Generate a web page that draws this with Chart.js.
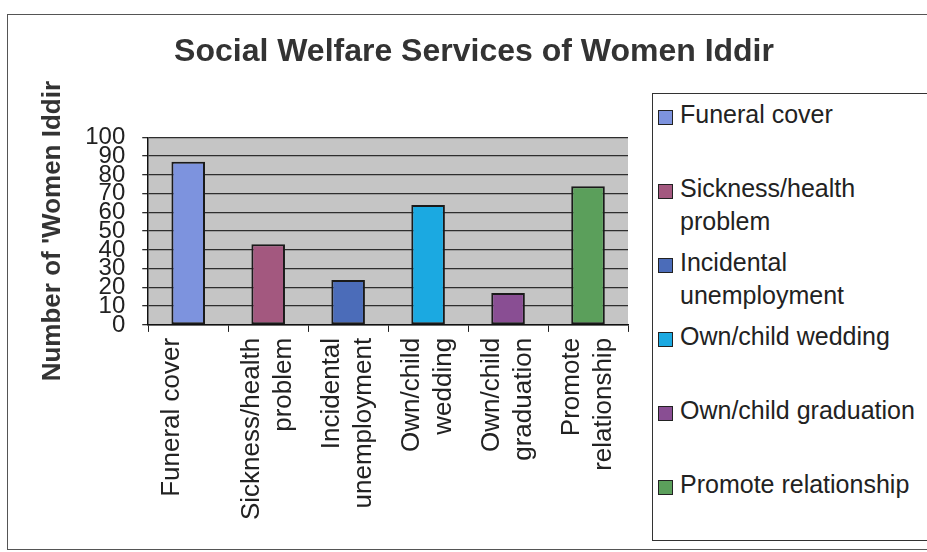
<!DOCTYPE html>
<html>
<head>
<meta charset="utf-8">
<script src="https://cdn.jsdelivr.net/npm/chart.js"></script>
<style>
  html, body { margin: 0; padding: 0; background: #fff; }
  body { width: 927px; height: 552px; position: relative; overflow: hidden; font-family: "Liberation Sans", Arial, sans-serif; }
  #frame { position: absolute; left: 7px; top: 14px; width: 940px; height: 534px; border: 1px solid #555; }
  #wrap { position: absolute; left: 0; top: 0; width: 927px; height: 552px; }
  #legend { position: absolute; left: 652px; top: 93px; width: 290px; height: 446px; border: 1px solid #333; background: #fff; }
  .item { position: absolute; left: 5px; display: flex; align-items: flex-start; }
  .swatch { width: 13px; height: 13px; border: 1.5px solid #222; margin-top: 12px; margin-right: 7px; flex: none; }
  .label { width: 245px; font-size: 25px; line-height: 33px; color: #222; }
</style>
</head>
<body>
<div id="frame"></div>
<div id="wrap"><canvas id="BarChart"></canvas></div>
<div id="legend"></div>
<script>
const title = 'Social Welfare Services of Women Iddir'
const yTitle = "Number of 'Women Iddir"
const services = ['Funeral cover', 'Sickness/health problem', 'Incidental unemployment', 'Own/child wedding', 'Own/child graduation', 'Promote relationship']
const axisLabels = [['Funeral cover'], ['Sickness/health', 'problem'], ['Incidental', 'unemployment'], ['Own/child', 'wedding'], ['Own/child', 'graduation'], ['Promote', 'relationship']]
const counts = [87, 43, 24, 64, 17, 74]
const barColors = ['#7d93de', '#a3587f', '#4b6cb9', '#1ba9e1', '#894e93', '#5b9f5b']
const yTicks = [0, 100, 10]

const family = "'Liberation Sans', Arial, sans-serif"

// grey plot area like the old spreadsheet chart
const plotBg = {
    id: 'plotBg',
    beforeDraw(chart) {
        const {ctx, chartArea} = chart
        ctx.save()
        ctx.fillStyle = '#c5c5c5'
        ctx.fillRect(chartArea.left, chartArea.top, chartArea.width, chartArea.height)
        ctx.restore()
    }
}

const ctl = document.getElementById('BarChart')
new Chart(ctl, {
    type: 'bar',
    data: {
        labels: axisLabels,
        datasets: [
            {
                data: counts,
                label: title,
                backgroundColor: barColors,
                borderColor: '#1a1a1a',
                borderWidth: 2,
                borderSkipped: false,
                barPercentage: 0.42,
                categoryPercentage: 1
            }
        ]
    },
    options: {
        responsive: true,
        maintainAspectRatio: false,
        animation: false,
        layout: {
            padding: {left: 21, right: 0, top: 0, bottom: 26}
        },
        plugins: {
            legend: {display: false},
            tooltip: {enabled: false},
            title: {
                display: true,
                text: title,
                color: '#333',
                font: {family: family, size: 32, weight: 'bold'},
                padding: {top: 33, bottom: 66}
            }
        },
        scales: {
            x: {
                grid: {display: true, drawOnChartArea: false, offset: true, tickLength: 7, color: '#222'},
                border: {color: '#111', width: 1.5},
                ticks: {
                    autoSkip: false,
                    maxRotation: 90,
                    minRotation: 90,
                    padding: 6,
                    labelOffset: -16,
                    color: '#222',
                    font: {family: family, size: 26, lineHeight: 1.23}
                }
            },
            y: {
                min: yTicks[0],
                max: yTicks[1],
                grid: {color: '#2e2e2e', lineWidth: 1.3, tickLength: 6},
                border: {color: '#111', width: 1.5},
                ticks: {
                    stepSize: yTicks[2],
                    autoSkip: false,
                    padding: 17,
                    color: '#222',
                    font: {family: family, size: 24, lineHeight: 0.7}
                },
                title: {
                    display: true,
                    text: yTitle,
                    color: '#333',
                    font: {family: family, size: 26, weight: 'bold'},
                    padding: {top: 16, bottom: 0}
                }
            },
            side: {
                position: 'right',
                display: true,
                grid: {display: false},
                border: {display: false},
                ticks: {display: false},
                afterFit: (scale) => { scale.width = 299 }
            }
        }
    },
    plugins: [plotBg]
})

// legend box on the right, one entry per service
const legend = document.getElementById('legend')
services.forEach((name, i) => {
    const item = document.createElement('div')
    item.className = 'item'
    item.style.top = (4 + i * 74) + 'px'
    const sw = document.createElement('div')
    sw.className = 'swatch'
    sw.style.background = barColors[i]
    const txt = document.createElement('div')
    txt.className = 'label'
    txt.textContent = name
    item.appendChild(sw)
    item.appendChild(txt)
    legend.appendChild(item)
})
</script>
</body>
</html>
